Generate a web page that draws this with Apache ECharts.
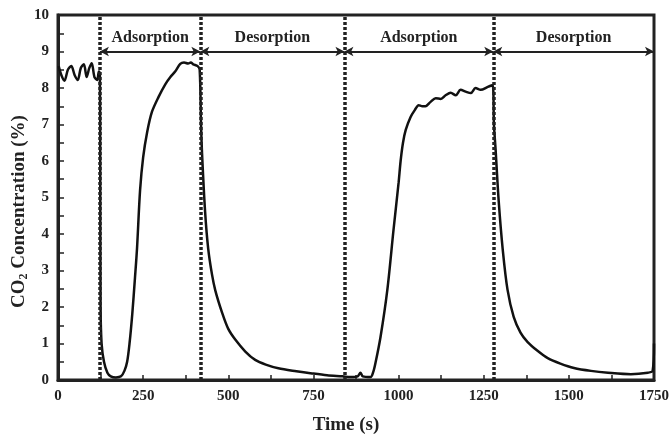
<!DOCTYPE html>
<html>
<head>
<meta charset="utf-8">
<script src="https://cdn.jsdelivr.net/npm/echarts@6/dist/echarts.min.js"></script>
<style>
  html, body { margin: 0; padding: 0; background: #fff; }
  #main { width: 670px; height: 434px; }
</style>
</head>
<body>
<div id="main"></div>
<script>
// time (s) and CO2 concentration (%)
var times = [2, 10, 19, 29, 39, 49, 58, 67, 76, 84, 92, 99, 107, 115, 120, 123,
  124, 125, 128, 135, 145, 155, 170, 185, 195, 203, 210, 218, 226, 232, 241, 250, 262, 276,
  295, 315, 330, 344, 359, 370, 382, 390, 397, 410, 416,
  420, 423, 432, 441, 452, 462, 482, 500, 521, 550, 579, 610, 647, 700, 746, 790, 835,
  860, 880, 888, 895, 918, 925, 932, 947, 967, 985, 1000, 1006, 1013, 1021, 1035, 1048,
  1059, 1070, 1079, 1094, 1109, 1124, 1138, 1153, 1168, 1182, 1197, 1212, 1226, 1241, 1262, 1276,
  1280, 1285, 1294, 1306, 1320, 1338, 1358, 1379, 1408, 1438, 1475, 1515, 1565, 1615, 1682,
  1732, 1746, 1750];
var conc = [8.6, 8.35, 8.2, 8.5, 8.6, 8.35, 8.22, 8.55, 8.65, 8.3, 8.55, 8.68, 8.3, 8.22, 8.45, 8.4,
  6.0, 2.0, 1.0, 0.5, 0.2, 0.1, 0.07, 0.1, 0.25, 0.5, 1.0, 1.8, 2.8, 3.6, 5.2, 6.1, 6.8, 7.35,
  7.75, 8.1, 8.3, 8.45, 8.66, 8.7, 8.67, 8.7, 8.65, 8.6, 8.5,
  7.0, 6.2, 4.6, 3.6, 2.9, 2.45, 1.84, 1.4, 1.1, 0.78, 0.55, 0.42, 0.32, 0.24, 0.18, 0.13, 0.1,
  0.08, 0.1, 0.2, 0.1, 0.08, 0.2, 0.46, 1.18, 2.47, 4.1, 5.4, 6.0, 6.5, 6.85, 7.2, 7.4,
  7.53, 7.5, 7.5, 7.62, 7.72, 7.7, 7.8, 7.87, 7.8, 7.95, 7.9, 7.86, 8.0, 7.95, 8.03, 8.08,
  7.0, 6.3, 4.9, 3.56, 2.47, 1.73, 1.3, 1.04, 0.8, 0.6, 0.45, 0.33, 0.25, 0.2, 0.16,
  0.2, 0.25, 1.0];

// phase boundaries (s) and names
var bounds = [123, 418, 841, 1278, 1750];
var phases = ['Adsorption', 'Desorption', 'Adsorption', 'Desorption'];
var arrowY = 9;

var xTicks = [0, 1750, 250];
var yTicks = [0, 10, 1];

var FONT = "'Liberation Serif', 'Times New Roman', serif";
var INK = '#222';

var myChart = echarts.init(document.getElementById('main'));

var points = times.map(function (t, i) { return [t, conc[i]]; });

// dotted separators (all but the right edge)
var sepLines = bounds.slice(0, 4).map(function (b) { return { xAxis: b }; });

// double arrows with phase names
var arrowLines = phases.map(function (name, i) {
  return [
    { coord: [bounds[i], arrowY], name: name },
    { coord: [bounds[i + 1], arrowY] }
  ];
});

var option = {
  animation: false,
  grid: {
    left: 58, right: 16, top: 15, bottom: 54,
    outerBoundsMode: 'none',
    containLabel: false,
    show: true,
    borderColor: INK,
    borderWidth: 3
  },
  xAxis: {
    type: 'value',
    min: xTicks[0], max: xTicks[1], interval: xTicks[2],
    name: 'Time (s)',
    nameLocation: 'middle',
    nameMoveOverlap: false,
    nameGap: 36,
    nameTextStyle: {
      fontFamily: FONT, fontWeight: 'bold', fontSize: 19, color: INK,
      padding: [0, 20, 0, 0]
    },
    axisLine: { lineStyle: { color: INK, width: 3 } },
    axisTick: { inside: true, length: 5, lineStyle: { color: INK, width: 1.5 } },
    minorTick: { show: true, splitNumber: 2, length: 5, lineStyle: { color: INK, width: 1.5 } },
    axisLabel: {
      fontFamily: FONT, fontWeight: 'bold', fontSize: 15, color: INK, margin: 9,
      formatter: function (v) { return String(v); }
    },
    splitLine: { show: false }
  },
  yAxis: {
    type: 'value',
    min: yTicks[0], max: yTicks[1], interval: yTicks[2],
    name: '{n|CO}{s|2}{n| Concentration (%)}',
    nameLocation: 'middle',
    nameMoveOverlap: false,
    nameGap: 28,
    nameTextStyle: {
      padding: [0, 28, 0, 0],
      rich: {
        n: { fontFamily: FONT, fontWeight: 'bold', fontSize: 19, color: INK, lineHeight: 22 },
        s: { fontFamily: FONT, fontWeight: 'bold', fontSize: 12, color: INK, lineHeight: 12, verticalAlign: 'bottom' }
      }
    },
    axisLine: { lineStyle: { color: INK, width: 3 } },
    axisTick: { inside: true, length: 6, lineStyle: { color: INK, width: 1.5 } },
    minorTick: { show: true, splitNumber: 2, length: 6, lineStyle: { color: INK, width: 1.5 } },
    axisLabel: { fontFamily: FONT, fontWeight: 'bold', fontSize: 15, color: INK, margin: 9 },
    splitLine: { show: false }
  },
  series: [
    {
      type: 'line',
      data: points,
      symbol: 'none',
      smooth: 0.3,
      lineStyle: { color: '#111', width: 2.5 },
      z: 3
    },
    {
      type: 'line',
      data: [],
      markLine: {
        silent: true,
        symbol: 'none',
        label: { show: false },
        lineStyle: { color: INK, width: 3.5, type: [3, 2] },
        data: sepLines
      },
      z: 4
    },
    {
      type: 'line',
      data: [],
      markLine: {
        silent: true,
        symbol: ['arrow', 'arrow'],
        symbolSize: [7, 9],
        lineStyle: { color: INK, width: 2, type: 'solid' },
        label: {
          show: true,
          position: 'insideMiddleTop',
          distance: 6,
          formatter: '{b}',
          fontFamily: FONT, fontWeight: 'bold', fontSize: 16, color: INK
        },
        data: arrowLines
      },
      z: 4
    }
  ]
};

myChart.setOption(option);
window.addEventListener('resize', function () { myChart.resize(); });
</script>
</body>
</html>
